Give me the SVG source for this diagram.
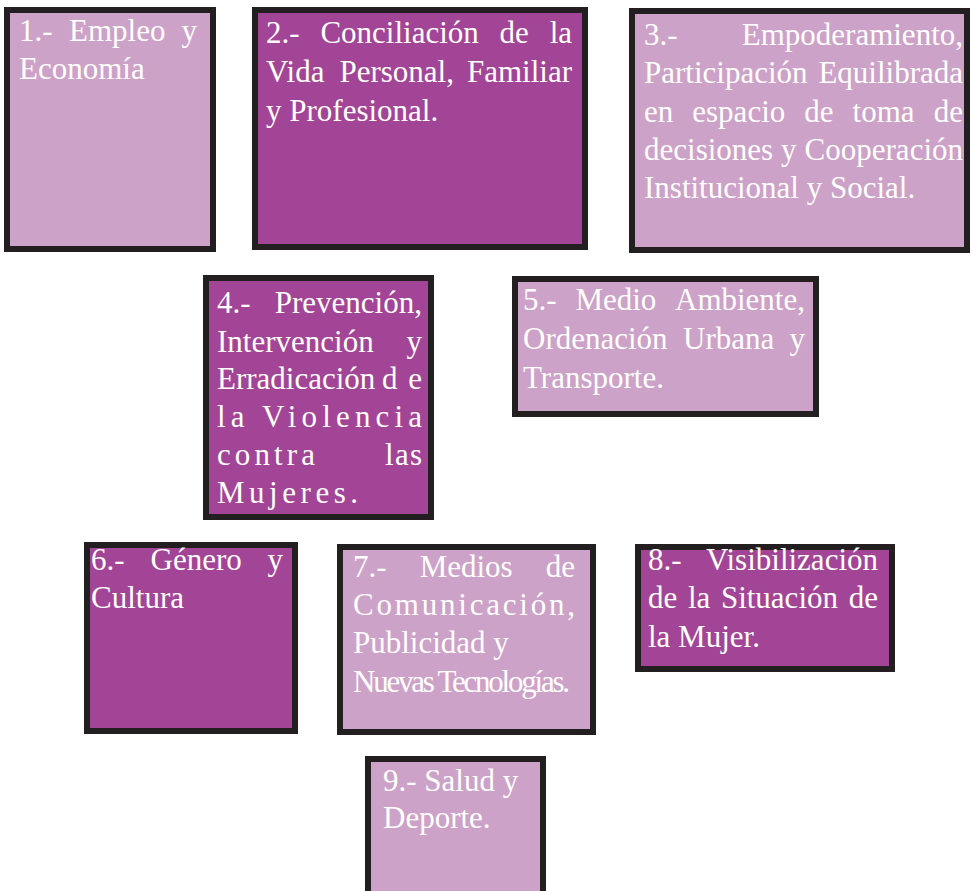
<svg xmlns="http://www.w3.org/2000/svg" width="971" height="891" viewBox="0 0 971 891">
<style>
.box{stroke:#231f20;stroke-width:6}
.light{fill:#cda2c8}
.dark{fill:#a34596}
text{font-family:"Liberation Serif","Times New Roman",serif;font-size:31px;fill:#ffffff}
.e{text-anchor:end}
</style>
<rect width="971" height="891" fill="#ffffff"/>
<g id="node1">
<rect class="box light" x="7" y="10" width="206" height="239"/>
<text y="41"><tspan x="19">1.-</tspan><tspan x="69">Empleo</tspan><tspan class="e" x="197">y</tspan></text>
<text x="19" y="79">Economía</text>
</g>
<g id="node2">
<rect class="box dark" x="255" y="10" width="330" height="237"/>
<text y="43"><tspan x="266">2.-</tspan><tspan x="320.4">Conciliación</tspan><tspan x="499.6">de</tspan><tspan class="e" x="572">la</tspan></text>
<text y="82"><tspan x="266">Vida</tspan><tspan x="339.4">Personal,</tspan><tspan class="e" x="572">Familiar</tspan></text>
<text x="266" y="121">y Profesional.</text>
</g>
<g id="node3">
<rect class="box light" x="632" y="11" width="335" height="239"/>
<text y="45"><tspan x="644">3.-</tspan><tspan class="e" x="963">Empoderamiento,</tspan></text>
<text y="83"><tspan x="644">Participación</tspan><tspan class="e" x="963">Equilibrada</tspan></text>
<text y="122"><tspan x="644">en</tspan><tspan x="692.3">espacio</tspan><tspan x="804.3">de</tspan><tspan x="852.6">toma</tspan><tspan class="e" x="963">de</tspan></text>
<text y="160"><tspan x="644">decisiones</tspan><tspan x="781.1">y</tspan><tspan class="e" x="963">Cooperación</tspan></text>
<text x="644" y="198">Institucional y Social.</text>
</g>
<g id="node4">
<rect class="box dark" x="206" y="278" width="225" height="239"/>
<text y="313"><tspan x="217">4.-</tspan><tspan class="e" x="422">Prevención,</tspan></text>
<text y="352"><tspan x="217">Intervención</tspan><tspan class="e" x="422">y</tspan></text>
<text y="389"><tspan x="217">Erradicación</tspan><tspan x="382" textLength="40" lengthAdjust="spacing">de</tspan></text>
<text x="217" y="427" textLength="205" lengthAdjust="spacing">la Violencia</text>
<text y="465"><tspan x="217" textLength="98" lengthAdjust="spacing">contra</tspan><tspan x="385" textLength="37" lengthAdjust="spacing">las</tspan></text>
<text x="217" y="503" textLength="141" lengthAdjust="spacing">Mujeres.</text>
</g>
<g id="node5">
<rect class="box light" x="515" y="279" width="301" height="135"/>
<text y="310"><tspan x="523">5.-</tspan><tspan x="575.4">Medio</tspan><tspan class="e" x="805">Ambiente,</tspan></text>
<text y="349"><tspan x="523">Ordenación</tspan><tspan x="683">Urbana</tspan><tspan class="e" x="805">y</tspan></text>
<text x="523" y="388">Transporte.</text>
</g>
<g id="node6">
<rect class="box dark" x="87" y="545" width="208" height="186"/>
<text y="570"><tspan x="91">6.-</tspan><tspan x="150.5">Género</tspan><tspan class="e" x="283">y</tspan></text>
<text x="91" y="608">Cultura</text>
</g>
<g id="node7">
<rect class="box light" x="340" y="547" width="253" height="185"/>
<text y="577"><tspan x="353">7.-</tspan><tspan x="419.7">Medios</tspan><tspan class="e" x="575">de</tspan></text>
<text x="353" y="615" textLength="222" lengthAdjust="spacing">Comunicación,</text>
<text x="353" y="653">Publicidad y</text>
<text x="353" y="692" textLength="217" lengthAdjust="spacing">Nuevas Tecnologías.</text>
</g>
<g id="node8">
<rect class="box dark" x="638" y="547" width="254" height="122"/>
<text y="570"><tspan x="648">8.-</tspan><tspan class="e" x="878">Visibilización</tspan></text>
<text y="608"><tspan x="648">de</tspan><tspan x="687.9">la</tspan><tspan x="720.9">Situación</tspan><tspan class="e" x="878">de</tspan></text>
<text x="648" y="647">la Mujer.</text>
</g>
<g id="node9">
<rect class="box light" x="368" y="759" width="175" height="145"/>
<text x="383" y="791">9.- Salud y</text>
<text x="383" y="828">Deporte.</text>
</g>
<g id="connectors"></g>
</svg>
